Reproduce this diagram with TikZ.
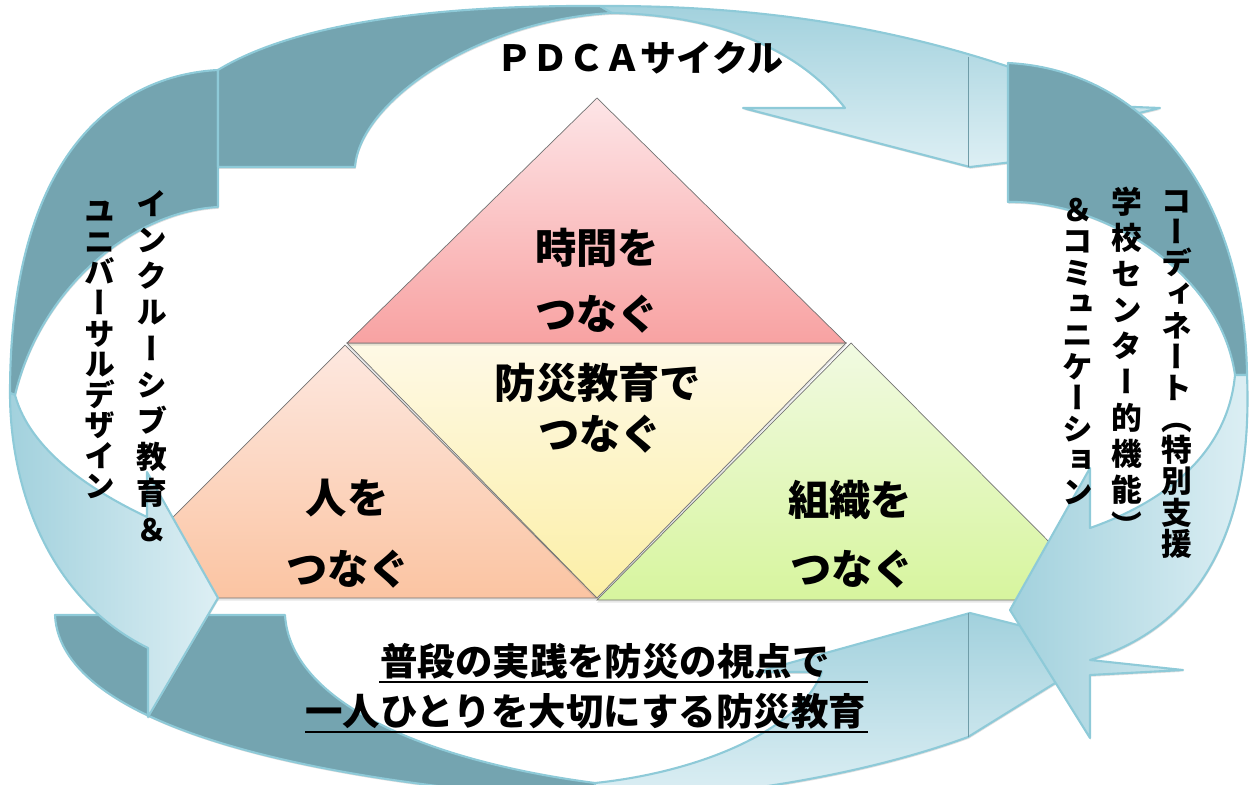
\documentclass[tikz,border=0pt]{standalone}
\usepackage{fontspec}
\newfontfamily\jp{Noto Sans CJK JP}
\newfontfamily\vjp[RawFeature=+vert]{Noto Sans CJK JP}
\usetikzlibrary{shadows}
\definecolor{darkteal}{HTML}{74A4B0}
\definecolor{edgeblue}{HTML}{8ECAD8}
\definecolor{ltA}{HTML}{A2D1DD}
\definecolor{ltB}{HTML}{DDEFF4}
\definecolor{pkA}{HTML}{FDE5E7}
\definecolor{pkB}{HTML}{F8A2A2}
\definecolor{ylA}{HTML}{FEF9E6}
\definecolor{ylB}{HTML}{FCEFA6}
\definecolor{pcA}{HTML}{FDE8E0}
\definecolor{pcB}{HTML}{FBC4A2}
\definecolor{grA}{HTML}{F1FAE2}
\definecolor{grB}{HTML}{D7F59E}
\definecolor{seamc}{HTML}{6F9CA8}
\newcommand\vfont[1]{\vjp\bfseries\fontsize{17.5}{#1}\selectfont\lineskiplimit=-50pt\lineskip=0pt}
\tikzset{
  darkpart/.style={fill=darkteal, draw=edgeblue, line width=1.2pt, line join=round,
    drop shadow={opacity=0.25, shadow xshift=0.4pt, shadow yshift=-1pt}},
  lightpart/.style={draw=edgeblue, line width=1.2pt, line join=round,
    drop shadow={opacity=0.25, shadow xshift=0.4pt, shadow yshift=-1pt}},
  tri/.style={draw=black!55, line width=0.4pt,
    drop shadow={opacity=0.2, shadow xshift=0pt, shadow yshift=-1.5pt}},
  seam/.style={draw=seamc, line width=0.4pt},
  big/.style={font=\jp\bfseries\fontsize{23.5}{28}\selectfont, inner sep=0pt},
  vcol/.style={align=center, inner sep=0pt, anchor=north},
  btxt/.style={font=\jp\bfseries\fontsize{21.3}{25}\selectfont, inner sep=0pt, anchor=south west},
  ul/.style={line width=1.3pt, black},
}
\begin{document}
\begin{tikzpicture}[x=0.02cm,y=-0.02cm]
\useasboundingbox (0,0) rectangle (1250,784);
\begin{scope}
\clip (0,0) rectangle (1250,784);
% triangles
\path[tri, top color=pcA, bottom color=pcB] (345,345) -- (597,598) -- (92,598) -- cycle;
\path[tri, top color=grA, bottom color=grB] (851,343) -- (1107,600) -- (597,600) -- cycle;
\path[tri, top color=ylA, bottom color=ylB] (347,343) -- (846,343) -- (597,598) -- cycle;
\path[tri, top color=pkA, bottom color=pkB] (597,98) -- (846,343) -- (347,343) -- cycle;
% bottom arrow
\path[darkpart] (55,615) -- (285,615) .. controls (290,700) and (420,760) .. (595,783)
  -- (595,800) .. controls (330,785) and (60,730) .. (55,615) -- cycle;
\path[lightpart, top color=ltA, bottom color=ltB] (595,783) .. controls (700,772) and (800,730) .. (822,672)
  -- (757,672) -- (970,613) -- (1030,628) -- (1060,680) -- (968,737)
  .. controls (850,780) and (700,800) .. (595,800) -- cycle;
\draw[seam] (968,613) -- (968,737);
% left arrow
\path[darkpart] (218,70) -- (218,207) .. controls (130,212) and (40,290) .. (15,395)
  -- (10,393) .. controls (10,150) and (120,75) .. (218,70) -- cycle;
\path[lightpart, left color=ltA, right color=ltB] (10,393) .. controls (10,490) and (50,600) .. (148,648)
  -- (148,717) -- (218,598) -- (147,472) -- (147,517)
  .. controls (90,490) and (30,450) .. (15,395) -- cycle;
% top arrow
\path[darkpart] (218,70) -- (218,167) -- (355,167) .. controls (360,100) and (480,20) .. (612,13)
  -- (600,6) .. controls (450,5) and (300,20) .. (218,70) -- cycle;
\path[lightpart, top color=ltA, bottom color=ltB] (600,6) .. controls (800,5) and (960,40) .. (1110,106)
  -- (1160,108) -- (1110,120) -- (1030,160) -- (970,167) -- (743,108) -- (845,108)
  .. controls (800,50) and (720,15) .. (612,13) -- cycle;
\draw[seam] (968,57) -- (968,167);
% right arrow
\path[darkpart] (1008,63) -- (1008,202) .. controls (1100,200) and (1220,270) .. (1235,375)
  -- (1247,375) .. controls (1245,200) and (1150,70) .. (1008,63) -- cycle;
\path[lightpart, left color=ltA, right color=ltB] (1247,375) .. controls (1252,500) and (1220,620) .. (1090,660)
  -- (1183,670) -- (1090,675) -- (1090,738) -- (1010,610) -- (1090,468) -- (1090,528)
  .. controls (1170,500) and (1228,450) .. (1235,375) -- cycle;
\end{scope}
% title
\node[font=\jp\bfseries\fontsize{20.5}{24}\selectfont, inner sep=0pt] (pdca) at (640,58) {ＰＤＣＡサイクル};
% triangle texts
\node[big] (t1) at (597,248) {時間を};
\node[big] (t2) at (597,314) {つなぐ};
\node[big] (t3) at (598,383) {防災教育で};
\node[big] (t4) at (600,434) {つなぐ};
\node[big] (t5) at (347,498) {人を};
\node[big] (t6) at (348,569) {つなぐ};
\node[big] (t7) at (850,500) {組織を};
\node[big] (t8) at (852,569) {つなぐ};
% vertical texts
\node[vcol, font=\vfont{20.6pt}] (l1) at (152,190) {イ\\ン\\ク\\ル\\ー\\シ\\ブ\\教\\育\\＆};
\node[vcol, font=\vfont{17.4pt}] (l2) at (100,201) {ユ\\ニ\\バ\\ー\\サ\\ル\\デ\\ザ\\イ\\ン};
\node[vcol, font=\vfont{17.75pt}] (r1) at (1177,190) {コ\\ー\\デ\\ィ\\ネ\\ー\\ト\\（\\特\\別\\支\\援};
\node[vcol, font=\vfont{20.5pt}] (r2) at (1127,187) {学\\校\\セ\\ン\\タ\\ー\\的\\機\\能\\）};
\node[vcol, font=\vfont{17.8pt}] (r3) at (1078,198) {＆\\コ\\ミ\\ュ\\ニ\\ケ\\ー\\シ\\ョ\\ン};
% bottom text
\node[btxt] (b1) at (380,680) {普段の実践を防災の視点で};
\node[btxt] (b2) at (305,730) {一人ひとりを大切にする防災教育};
\coordinate (u1s) at (379,682);
\coordinate (u1e) at (868,682);
\coordinate (u2s) at (305,732);
\coordinate (u2e) at (868,732);
\draw[ul] (u1s) -- (u1e);
\draw[ul] (u2s) -- (u2e);
\end{tikzpicture}
\end{document}
